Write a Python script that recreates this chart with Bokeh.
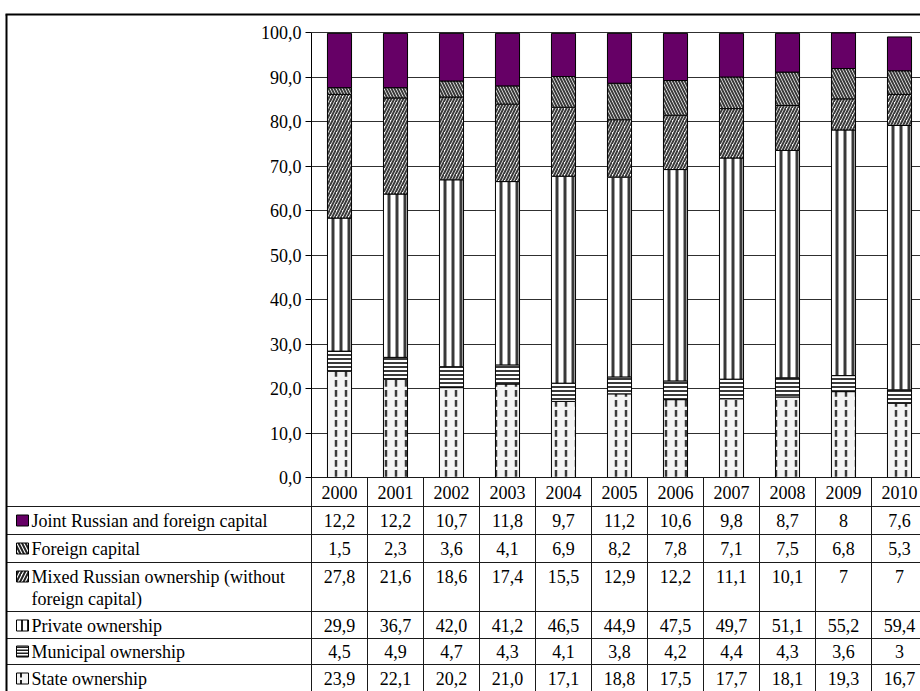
from bokeh.plotting import figure
from bokeh.models import Range1d, FixedTicker, CustomJSTickFormatter, ColumnDataSource
from bokeh.core.properties import value
from bokeh.embed import file_html
from bokeh.resources import INLINE

# ---------------- data (as printed in the table) ----------------
years = ["2000", "2001", "2002", "2003", "2004", "2005", "2006", "2007", "2008", "2009", "2010"]
joint_labels = ["12,2", "12,2", "10,7", "11,8", "9,7", "11,2", "10,6", "9,8", "8,7", "8", "7,6"]
foreign_labels = ["1,5", "2,3", "3,6", "4,1", "6,9", "8,2", "7,8", "7,1", "7,5", "6,8", "5,3"]
mixed_labels = ["27,8", "21,6", "18,6", "17,4", "15,5", "12,9", "12,2", "11,1", "10,1", "7", "7"]
private_labels = ["29,9", "36,7", "42,0", "41,2", "46,5", "44,9", "47,5", "49,7", "51,1", "55,2", "59,4"]
municipal_labels = ["4,5", "4,9", "4,7", "4,3", "4,1", "3,8", "4,2", "4,4", "4,3", "3,6", "3"]
state_labels = ["23,9", "22,1", "20,2", "21,0", "17,1", "18,8", "17,5", "17,7", "18,1", "19,3", "16,7"]
series_names = ["Joint Russian and foreign capital", "Foreign capital",
                "Mixed Russian ownership (without", "Private ownership",
                "Municipal ownership", "State ownership"]
mixed_second_line = "foreign capital)"
y_ticks = [0, 10, 20, 30, 40, 50, 60, 70, 80, 90, 100]


def num(lst):
    return [float(s.replace(",", ".")) for s in lst]


# ---------------- layout constants (pixels) ----------------
W, H = 920, 691
PX_AXIS = 311      # x pixel of the value axis
COL_W = 56         # width of one year column
PX_Y0 = 477        # y pixel of value 0
PX_Y100 = 32       # y pixel of value 100
PPU = (PX_Y0 - PX_Y100) / 100.0


def X(px):
    return (px - PX_AXIS) / COL_W - 0.5


def Y(py):
    return (PX_Y0 - py) / PPU


FONT = "Liberation Serif"
FS = "18px"

p = figure(width=W, height=H, output_backend="svg", toolbar_location=None,
           x_range=Range1d(X(0), X(W)), y_range=Range1d(Y(H), Y(0)),
           x_axis_location=None, min_border=0, min_border_left=0, min_border_right=0,
           min_border_top=0, min_border_bottom=0, outline_line_color=None,
           background_fill_color="white", border_fill_color="white")

# value axis
ticker = FixedTicker(ticks=y_ticks)
ax = p.yaxis[0]
ax.fixed_location = -0.5
ax.bounds = (0, 100)
ax.ticker = ticker
ax.formatter = CustomJSTickFormatter(code="return tick.toFixed(1).replace('.', ',')")
ax.axis_line_color = "black"
ax.axis_line_width = 1
ax.major_tick_out = 6
ax.major_tick_in = 0
ax.minor_tick_out = 0
ax.minor_tick_in = 0
ax.major_tick_line_color = "black"
ax.major_label_text_font = FONT
ax.major_label_text_font_size = "18px"
ax.major_label_text_color = "black"
ax.major_label_standoff = 4

for g in p.grid:
    if g.dimension == 1:
        g.ticker = ticker
        g.bounds = (0, 100)
        g.cross_bounds = (-0.5, X(W))
        g.grid_line_color = "#303030"
        g.grid_line_width = 1
    else:
        g.visible = False

# ---------------- stacked bars ----------------
xs = list(range(len(years)))
src = ColumnDataSource(dict(
    x=xs,
    state=num(state_labels), municipal=num(municipal_labels), private=num(private_labels),
    mixed=num(mixed_labels), foreign=num(foreign_labels), joint=num(joint_labels),
))
stackers = ["state", "municipal", "private", "mixed", "foreign", "joint"]
fills = ["#f4f4f4", "white", "white", "white", "white", "#660066"]
hatches = [":", "-", "|", "/", "\\", " "]
scales = [10, 4, 8, 6, 6, 6]
weights = [2.5, 2, 3, 2, 2, 1]
p.vbar_stack(stackers, x="x", width=0.43, source=src,
             fill_color=fills, line_color="black", line_width=1,
             hatch_pattern=hatches, hatch_scale=scales, hatch_weight=weights,
             hatch_color="#3a3a3a")

# ---------------- table ----------------
row_lines_px = [506, 534, 562, 611, 638, 664]
seg = dict(x0=[], y0=[], x1=[], y1=[])
for py in row_lines_px:
    seg["x0"].append(X(6)); seg["x1"].append(X(W))
    seg["y0"].append(Y(py)); seg["y1"].append(Y(py))
# x axis line / top of year row
seg["x0"].append(-0.5); seg["x1"].append(X(W)); seg["y0"].append(0); seg["y1"].append(0)
# column separators
for k in range(len(years) + 1):
    seg["x0"].append(k - 0.5); seg["x1"].append(k - 0.5)
    seg["y0"].append(0); seg["y1"].append(Y(H))
p.segment("x0", "y0", "x1", "y1", source=ColumnDataSource(seg), line_color="#1a1a1a", line_width=1)

# outer border
p.segment(x0=[X(5), X(6)], y0=[Y(14), Y(14)], x1=[X(W), X(6)], y1=[Y(14), Y(H)],
          line_color="black", line_width=2)

# year row
p.text(x=xs, y=[Y(492)] * len(xs), text=years, text_align="center", text_baseline="middle",
       text_font=value(FONT), text_font_size=FS, text_color="black")

row_py = [520, 548, 576, 625, 651, 678]
row_labels = [joint_labels, foreign_labels, mixed_labels, private_labels, municipal_labels, state_labels]
tx, ty, tt = [], [], []
for py, labs in zip(row_py, row_labels):
    for i, s in enumerate(labs):
        tx.append(i); ty.append(Y(py)); tt.append(s)
p.text(x=tx, y=ty, text=tt, text_align="center", text_baseline="middle",
       text_font=value(FONT), text_font_size=FS, text_color="black")

p.text(x=[X(31)] * 7, y=[Y(py) for py in row_py[:3]] + [Y(598)] + [Y(py) for py in row_py[3:]],
       text=series_names[:3] + [mixed_second_line] + series_names[3:],
       text_align="left", text_baseline="middle",
       text_font=value(FONT), text_font_size=FS, text_color="black")

# legend swatches
sw_fill = ["#660066", "white", "white", "white", "white", "#f4f4f4"]
sw_hatch = [" ", "\\", "/", "|", "-", ":"]
sw_scale = [6, 7, 7, 6, 3, 8]
p.rect(x=[X(22)] * 6, y=[Y(py) for py in row_py], width=12, height=11,
       width_units="screen", height_units="screen",
       fill_color=sw_fill, line_color="black", line_width=1,
       hatch_pattern=sw_hatch, hatch_scale=sw_scale, hatch_weight=2, hatch_color="#222222")

open("out.html", "w").write(file_html(p, INLINE))
